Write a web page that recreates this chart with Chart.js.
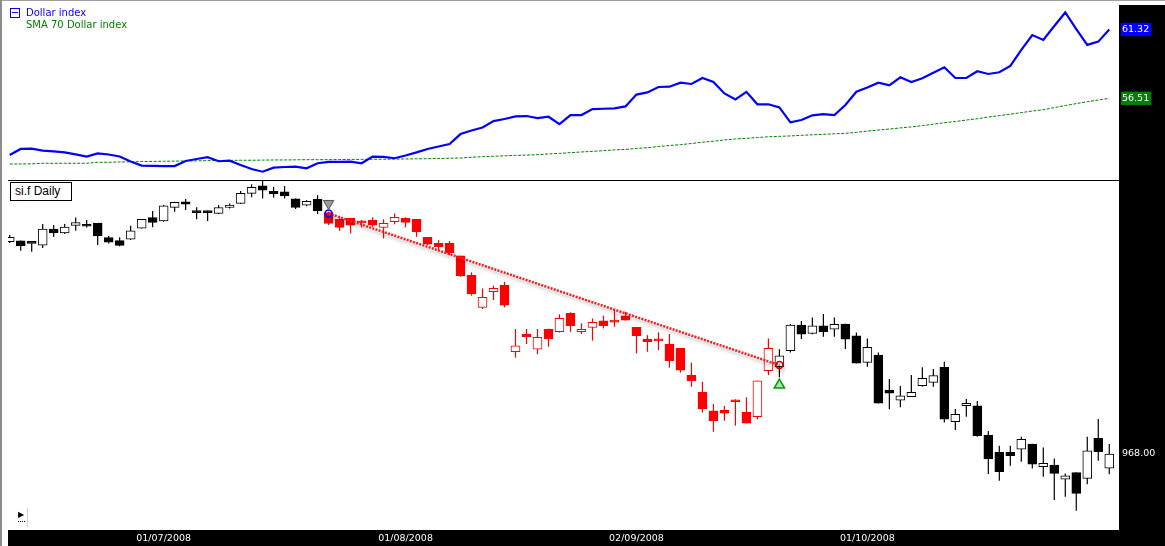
<!DOCTYPE html>
<html>
<head>
<meta charset="utf-8">
<title>si.f Daily</title>
<script src="https://cdn.jsdelivr.net/npm/chart.js@4.4.1/dist/chart.umd.min.js"></script>
<style>
  html, body { margin: 0; padding: 0; background: #fff; }
  #page { position: relative; width: 1165px; height: 546px; overflow: hidden; background: #fff; }
  .blk { position: absolute; }
  canvas { position: absolute; left: 0; }
  #topChart { top: 0; }
  #mainChart { top: 181px; }
  .leg { position: absolute; font: 10px 'DejaVu Sans', sans-serif; line-height: 12px; white-space: nowrap; }
  #legIcon { position: absolute; left: 10px; top: 8px; width: 8px; height: 8px; border: 1px solid #0000ff; }
  #legIcon div { position: absolute; left: 1px; top: 3px; width: 6px; height: 1px; background: #0000ff; }
  #title { position: absolute; left: 10px; top: 182px; width: 56px; height: 17px; border: 1px solid #000;
           background: #fff; padding-left: 4px; font: 12px 'Liberation Sans', sans-serif; line-height: 17px; color: #000; }
  #play { position: absolute; left: 17px; top: 508px; width: 10px; height: 19px; border-right: 1px solid #d4d4d4; }
  #play span { position: absolute; left: 1px; top: 2px; font: 8px 'DejaVu Sans', sans-serif; color: #000; }
  #play i { position: absolute; left: 1px; top: 13px; width: 7px; border-top: 1px dotted #000; }
</style>
</head>
<body>
<div id="page">
  <div class="blk" style="left:0;top:0;width:1165px;height:1px;background:#a0a0a0"></div>
  <div class="blk" style="left:0;top:0;width:2px;height:546px;background:#8c8c8c"></div>
  <div class="blk" style="left:1119px;top:5px;width:46px;height:541px;background:#000"></div>
  <div class="blk" style="left:8px;top:530px;width:1157px;height:16px;background:#000"></div>
  <div class="blk" style="left:8px;top:180px;width:1111px;height:1px;background:#000"></div>
  <canvas id="topChart" width="1165" height="180"></canvas>
  <canvas id="mainChart" width="1165" height="365"></canvas>
  <div id="legIcon"><div></div></div>
  <div class="leg" style="left:26px;top:7px;color:#0000ff">Dollar index</div>
  <div class="leg" style="left:26px;top:19px;color:#008000">SMA 70 Dollar index</div>
  <div id="title">si.f Daily</div>
  <div id="play"><span>&#9654;</span><i></i></div>
</div>
<script>
// si.f daily candles, 10/06/2008 .. 31/10/2008 (one entry per trading day)
const opens = [1732, 1735, 1727, 1720, 1778, 1764, 1791, 1789, 1799, 1747,
  1736, 1741, 1781, 1819, 1807, 1856, 1876, 1838, 1838, 1834,
  1856, 1870, 1906, 1933, 1914, 1912, 1887, 1864, 1885, 1837,
  1813, 1816, 1801, 1810, 1784, 1804, 1816, 1813, 1748, 1726,
  1726, 1681, 1612, 1496, 1552, 1575, 1336, 1400, 1345, 1418,
  1408, 1474, 1408, 1424, 1447, 1444, 1465, 1424, 1382, 1376,
  1364, 1348, 1252, 1191, 1123, 1126, 1162, 1118, 1102, 1268,
  1282, 1340, 1432, 1402, 1429, 1417, 1436, 1393, 1298, 1324,
  1198, 1162, 1174, 1214, 1226, 1280, 1084, 1142, 1141, 1036,
  974, 974, 985, 1004, 922, 928, 877, 901, 880, 1024,
  917];
const highs = [1756, 1737, 1727, 1796, 1792, 1796, 1819, 1810, 1800, 1753,
  1748, 1790, 1814, 1843, 1864, 1876, 1886, 1856, 1844, 1864,
  1870, 1915, 1939, 1952, 1930, 1933, 1888, 1882, 1900, 1840,
  1820, 1818, 1810, 1820, 1813, 1834, 1820, 1814, 1749, 1738,
  1735, 1682, 1622, 1564, 1574, 1588, 1418, 1418, 1418, 1419,
  1471, 1478, 1438, 1456, 1466, 1486, 1480, 1425, 1396, 1406,
  1400, 1349, 1297, 1228, 1148, 1141, 1165, 1172, 1232, 1384,
  1345, 1436, 1447, 1459, 1472, 1459, 1437, 1405, 1384, 1333,
  1238, 1213, 1252, 1280, 1274, 1300, 1130, 1166, 1159, 1051,
  998, 998, 1030, 1005, 991, 952, 898, 902, 1030, 1094,
  1004];
const lows = [1728, 1700, 1696, 1710, 1749, 1760, 1772, 1783, 1720, 1726,
  1716, 1738, 1780, 1784, 1804, 1840, 1846, 1813, 1807, 1832,
  1852, 1868, 1892, 1888, 1891, 1888, 1850, 1860, 1832, 1792,
  1771, 1762, 1784, 1786, 1744, 1795, 1784, 1750, 1720, 1702,
  1684, 1606, 1538, 1490, 1522, 1496, 1315, 1364, 1327, 1354,
  1405, 1408, 1400, 1376, 1420, 1426, 1448, 1330, 1336, 1342,
  1279, 1261, 1210, 1117, 1048, 1088, 1070, 1078, 1093, 1252,
  1244, 1333, 1382, 1399, 1390, 1390, 1346, 1294, 1282, 1150,
  1129, 1136, 1173, 1210, 1210, 1081, 1054, 1102, 1030, 896,
  872, 926, 940, 916, 886, 802, 814, 764, 859, 944,
  895];
const closes = [1748, 1717, 1726, 1778, 1764, 1785, 1801, 1788, 1753, 1731,
  1719, 1771, 1813, 1802, 1861, 1874, 1867, 1837, 1837, 1855,
  1864, 1906, 1928, 1918, 1904, 1897, 1856, 1878, 1843, 1798,
  1784, 1792, 1800, 1792, 1798, 1820, 1802, 1768, 1723, 1714,
  1693, 1609, 1544, 1532, 1564, 1504, 1357, 1390, 1388, 1382,
  1456, 1430, 1417, 1442, 1430, 1443, 1450, 1394, 1372, 1375,
  1304, 1270, 1232, 1130, 1088, 1115, 1156, 1079, 1231, 1348,
  1321, 1432, 1399, 1429, 1408, 1435, 1381, 1295, 1352, 1151,
  1187, 1177, 1190, 1240, 1250, 1093, 1111, 1150, 1034, 950,
  904, 962, 1021, 931, 934, 898, 889, 826, 979, 976,
  968];

// candles of the highlighted swing are drawn red
const redFrom = 29;
const redTo = 69;

const dollarIdx = [52.55, 52.97, 52.99, 52.85, 52.80, 52.73, 52.59, 52.44, 52.66, 52.58,
  52.44, 52.09, 51.81, 51.79, 51.77, 51.77, 52.13, 52.27, 52.39, 52.11,
  52.15, 51.85, 51.57, 51.38, 51.66, 51.71, 51.73, 51.62, 51.97, 52.06,
  52.07, 52.08, 51.97, 52.43, 52.41, 52.32, 52.51, 52.73, 52.97, 53.14,
  53.31, 54.01, 54.26, 54.47, 54.92, 55.06, 55.25, 55.27, 55.13, 55.22,
  54.71, 55.34, 55.34, 55.76, 55.78, 55.81, 55.94, 56.77, 56.92, 57.30,
  57.32, 57.60, 57.51, 57.93, 57.65, 56.85, 56.43, 56.96, 56.09, 56.09,
  55.87, 54.83, 54.99, 55.32, 55.41, 55.34, 56.04, 56.97, 57.27, 57.60,
  57.42, 57.98, 57.65, 57.91, 58.30, 58.68, 57.93, 57.93, 58.40, 58.21,
  58.33, 58.77, 59.89, 60.93, 60.59, 61.56, 62.51, 61.35, 60.24, 60.47,
  61.32];
const sma70 = [51.92, 51.92, 51.93, 51.97, 51.97, 51.97, 51.97, 51.97, 52.04, 52.04,
  52.06, 52.07, 52.09, 52.10, 52.11, 52.12, 52.13, 52.14, 52.15, 52.16,
  52.17, 52.18, 52.18, 52.19, 52.20, 52.20, 52.21, 52.22, 52.22, 52.22,
  52.23, 52.24, 52.24, 52.25, 52.25, 52.26, 52.27, 52.28, 52.29, 52.30,
  52.32, 52.34, 52.39, 52.43, 52.46, 52.49, 52.52, 52.54, 52.57, 52.62,
  52.66, 52.71, 52.76, 52.80, 52.85, 52.90, 52.94, 53.00, 53.06, 53.14,
  53.21, 53.27, 53.35, 53.44, 53.51, 53.60, 53.67, 53.71, 53.77, 53.82,
  53.85, 53.88, 53.92, 53.96, 53.99, 54.03, 54.06, 54.13, 54.22, 54.29,
  54.36, 54.44, 54.51, 54.60, 54.70, 54.80, 54.89, 54.99, 55.08, 55.20,
  55.30, 55.40, 55.51, 55.62, 55.71, 55.86, 56.00, 56.14, 56.27, 56.39,
  56.51];

const tickIdx = [14, 36, 57, 78];
const tickLabels = ['01/07/2008', '01/08/2008', '02/09/2008', '01/10/2008'];

// trend line between two candles, and the signal marks
const trendPts = [{ x: 29, y: 1834 }, { x: 70, y: 1288 }];
const sellPts = [{ x: 29, y: 1870 }];
const buyPts = [{ x: 70, y: 1216 }];

const xMin = -0.155, xMax = 100.885;

Chart.defaults.font.family = "'DejaVu Sans', sans-serif";
Chart.defaults.font.size = 9.5;

const days = opens.map((v, i) => i);

function isRed(i) {
    return i >= redFrom && i <= redTo;
}

function bodyFill(ctx) {
    const i = ctx.dataIndex;
    if (closes[i] >= opens[i]) return '#ffffff';
    return isRed(i) ? '#ff0000' : '#000000';
}

function edgeColor(ctx) {
    return isRed(ctx.dataIndex) ? '#ff0000' : '#000000';
}

function fitRight(scale) {
    scale.width = 46;
    scale.paddingTop = 0;
    scale.paddingBottom = 0;
}

const trendShadow = {
    id: 'trendShadow',
    beforeDatasetDraw(chart, args) {
        if (chart.data.datasets[args.index].label !== 'trend') return;
        const c = chart.ctx;
        c.save();
        c.shadowColor = 'rgba(0, 0, 0, 0.28)';
        c.shadowBlur = 3;
        c.shadowOffsetX = 1;
        c.shadowOffsetY = 3;
    },
    afterDatasetDraw(chart, args) {
        if (chart.data.datasets[args.index].label !== 'trend') return;
        chart.ctx.restore();
    }
};

var topChart = new Chart(document.getElementById('topChart'), {
    type: 'line',
    data: {
        datasets: [{
            label: 'Dollar index',
            data: dollarIdx.map((v, i) => ({ x: i, y: v })),
            borderColor: '#0000ff',
            borderWidth: 2.2,
            pointRadius: 0
        }, {
            label: 'SMA 70 Dollar index',
            data: sma70.map((v, i) => ({ x: i, y: v })),
            borderColor: '#008000',
            borderWidth: 1,
            borderDash: [3, 1.5],
            pointRadius: 0
        }]
    },
    options: {
        responsive: false,
        animation: false,
        events: [],
        layout: { padding: { left: 8, top: 5, right: 0, bottom: 0 }, autoPadding: false },
        plugins: { legend: { display: false }, tooltip: { enabled: false } },
        scales: {
            x: { type: 'linear', min: xMin, max: xMax, display: false },
            y: {
                position: 'right',
                min: 50.80,
                max: 63.03,
                grid: { display: false, drawTicks: false },
                border: { display: false },
                afterBuildTicks: (s) => {
                    s.ticks = [{ value: dollarIdx[dollarIdx.length - 1] }, { value: sma70[sma70.length - 1] }];
                },
                afterFit: fitRight,
                ticks: {
                    padding: 3,
                    color: '#ffffff',
                    showLabelBackdrop: true,
                    backdropColor: (c) => c.index === 0 ? '#0000ff' : '#008000',
                    backdropPadding: { top: 1, bottom: 1, left: 1, right: 2 },
                    callback: (v) => Number(v).toFixed(2)
                }
            }
        }
    }
});

var mainChart = new Chart(document.getElementById('mainChart'), {
    type: 'bar',
    data: {
        datasets: [{
            type: 'line',
            label: 'sell',
            data: sellPts,
            showLine: false,
            pointStyle: 'triangle',
            rotation: 180,
            pointRadius: 6,
            pointBackgroundColor: '#9a9a9a',
            pointBorderColor: '#505050',
            pointBorderWidth: 1,
            order: 0
        }, {
            type: 'line',
            label: 'buy',
            data: buyPts,
            showLine: false,
            pointStyle: 'triangle',
            pointRadius: 6,
            pointBackgroundColor: '#a8e4a8',
            pointBorderColor: '#00a000',
            pointBorderWidth: 1.5,
            order: 0
        }, {
            type: 'line',
            label: 'trend',
            data: trendPts,
            borderColor: '#ff1a1a',
            borderWidth: 2.5,
            borderDash: [2, 1.3],
            pointRadius: 3.5,
            pointBorderWidth: 1.5,
            pointBorderColor: ['#0000ff', '#d00000'],
            pointBackgroundColor: 'rgba(0,0,0,0)',
            order: 1
        }, {
            label: 'body',
            data: days.map((i) => ({ x: i, y: [opens[i], closes[i]] })),
            backgroundColor: bodyFill,
            borderColor: edgeColor,
            borderWidth: 1,
            borderSkipped: false,
            barThickness: 9,
            minBarLength: 2,
            grouped: false,
            order: 2
        }, {
            label: 'wick',
            data: days.map((i) => ({ x: i, y: [lows[i], highs[i]] })),
            backgroundColor: edgeColor,
            borderWidth: 0,
            barThickness: 1.2,
            inflateAmount: 0,
            grouped: false,
            order: 3
        }]
    },
    options: {
        responsive: false,
        animation: false,
        events: [],
        layout: { padding: { left: 8, top: 0, right: 0, bottom: 0 }, autoPadding: false },
        plugins: { legend: { display: false }, tooltip: { enabled: false } },
        scales: {
            x: {
                type: 'linear',
                min: xMin,
                max: xMax,
                offset: false,
                grid: { display: false, drawTicks: false },
                border: { display: false },
                afterBuildTicks: (s) => {
                    s.ticks = tickIdx.map((v) => ({ value: v }));
                },
                afterFit: (s) => {
                    s.height = 16;
                    s.paddingLeft = 0;
                    s.paddingRight = 0;
                },
                ticks: {
                    color: '#ffffff',
                    padding: 3,
                    autoSkip: false,
                    maxRotation: 0,
                    callback: (v) => tickLabels[tickIdx.indexOf(v)]
                }
            },
            y: {
                position: 'right',
                min: 694.4,
                max: 1950.8,
                grid: { display: false, drawTicks: false },
                border: { display: false },
                afterBuildTicks: (s) => {
                    s.ticks = [{ value: closes[closes.length - 1] }];
                },
                afterFit: fitRight,
                ticks: {
                    padding: 3,
                    color: '#ffffff',
                    callback: (v) => Number(v).toFixed(2)
                }
            }
        }
    },
    plugins: [trendShadow]
});
</script>
</body>
</html>
